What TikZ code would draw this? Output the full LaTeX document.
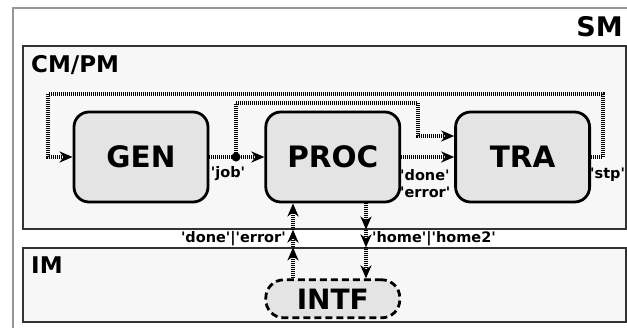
\documentclass[tikz,border=0pt]{standalone}
\usepackage{fontspec}
\setmainfont{DejaVu Sans}
\usepackage{xcolor}
\usepackage{tikz}
\usetikzlibrary{arrows.meta, positioning}
\definecolor{framegray}{RGB}{150,150,150}
\definecolor{panelgray}{RGB}{247,247,247}
\definecolor{boxgray}{RGB}{228,228,228}
\newcommand{\sq}[1]{\textquotesingle#1\textquotesingle}

\begin{document}
\begin{tikzpicture}[x=1pt,y=-1pt,
        panel/.style={draw=black!80,fill=panelgray,line width=1.2pt,inner sep=0pt},
        block/.style={draw=black,fill=boxgray,line width=2.8pt,rounded corners=15pt,
                      minimum width=134pt,minimum height=90pt,inner sep=0pt,
                      font=\fontsize{29.5}{34}\selectfont\bfseries},
        iface/.style={block,dash pattern=on 7pt off 4pt,rounded corners=18pt,
                      minimum height=38pt,font=\fontsize{28}{32}\selectfont\bfseries},
        flow/.style={line width=3.4pt,dash pattern=on 1pt off 1pt,
                     -{Stealth[length=13pt,width=11pt,inset=4pt]}},
        lbl/.style={inner sep=0pt,font=\fontsize{14.5}{17}\selectfont\bfseries},
        title/.style={inner sep=0pt,font=\fontsize{23}{28}\selectfont\bfseries}]
      \useasboundingbox (0,0) rectangle (627,327);
      \draw[framegray,line width=1.5pt] (13,8) rectangle (660,360);
      \node[title,font=\fontsize{27}{32}\selectfont\bfseries,anchor=base east] (smlbl)
        at (623,36) {SM};
      \node[panel,minimum width=603pt,minimum height=183pt] (cmpm) at (324.5,137.5) {};
      \node[panel,minimum width=603pt,minimum height=74pt] (im) at (324.5,285) {};
      \node[title,anchor=base west] (cmpmlbl) at (31,72) {CM/PM};
      \node[title,anchor=base west] (imlbl) at (31,273) {IM};

      \node[block] (gen) at (141,157) {GEN};
      \node[block,right=55pt of gen] (proc) {PROC};
      \node[block,right=53pt of proc] (tra) {TRA};
      \node[iface,below=75pt of proc] (intf) {INTF};

      \coordinate (outerL) at (48,94);
      \coordinate (outerR) at (603,94);
      \coordinate (innerR) at (418,103);
      \coordinate (upx) at (293,0);
      \coordinate (dnx) at (366,0);

      \draw[flow] (gen.east) -- (proc.west);
      \node[circle,fill=black,inner sep=0pt,minimum size=9pt] (jdot) at (236,157) {};
      \draw[flow] (jdot.center) |- (innerR) |- ([yshift=21pt]tra.west);
      \draw[flow] (proc.east) -- (tra.west);
      \draw[flow] (tra.east) -| (outerR) -- (outerL) |- (gen.west);

      \draw[flow] (intf.north -| upx) -- (im.north -| upx);
      \draw[flow] (im.north -| upx) -- (cmpm.south -| upx);
      \draw[flow] (cmpm.south -| upx) -- (proc.south -| upx);
      \draw[flow] (proc.south -| dnx) -- (cmpm.south -| dnx);
      \draw[flow] (cmpm.south -| dnx) -- (im.north -| dnx);
      \draw[flow] (im.north -| dnx) -- (intf.north -| dnx);

      \node[lbl,anchor=base] (joblbl) at (228,177) {\sq{job}};
      \node[lbl,anchor=base west] (donelbl) at (400,180) {\sq{done}};
      \node[lbl,anchor=base west] (errlbl) at (400,197) {\sq{error}};
      \node[lbl,anchor=base west] (stplbl) at (590,178) {\sq{stp}};
      \node[lbl,anchor=base east] (replbl) at (286,242) {\sq{done}|\sq{error}};
      \node[lbl,anchor=base west] (reqlbl) at (372,242) {\sq{home}|\sq{home2}};
    \end{tikzpicture}
\end{document}
